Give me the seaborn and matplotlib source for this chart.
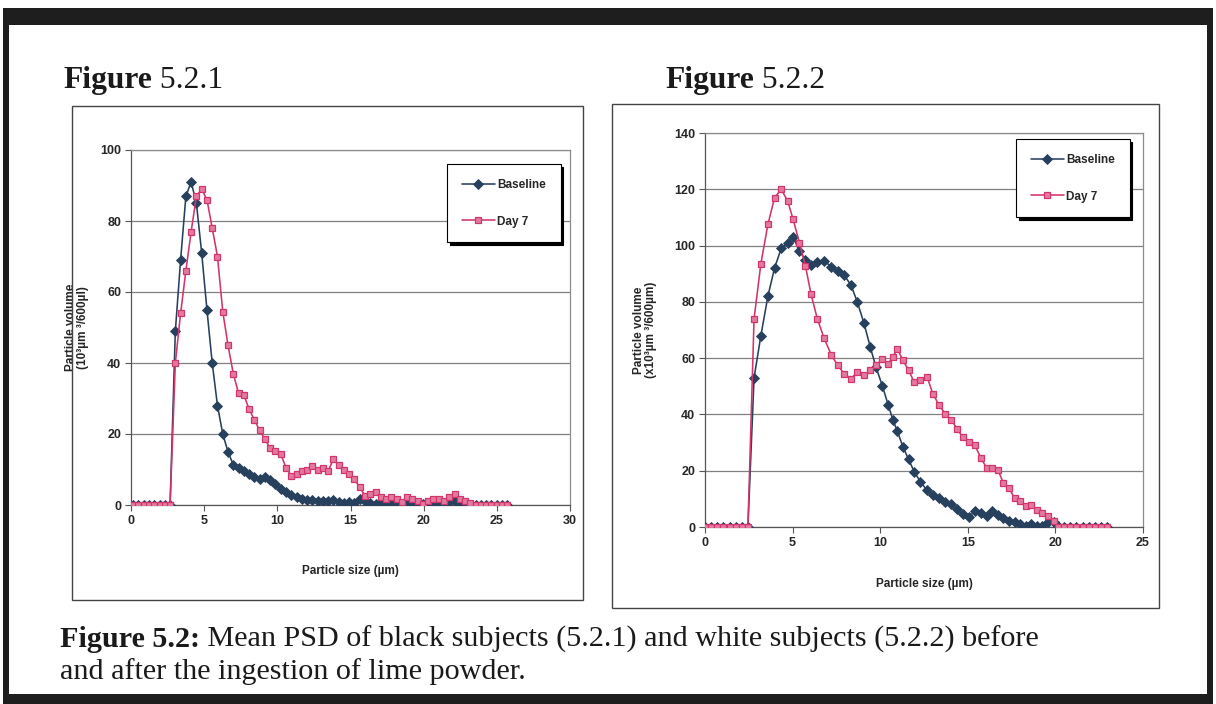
import pandas as pd
import seaborn as sns
import matplotlib.pyplot as plt
from matplotlib.patches import Rectangle

# ==============================
# Datos (PSD medio)
# ==============================
# Figura 5.2.1 - sujetos negros
size_black = [0.15, 0.51, 0.87, 1.23, 1.59, 1.95, 2.31, 2.67, 3.03, 3.39,
              3.75, 4.11, 4.47, 4.83, 5.19, 5.55, 5.91, 6.27, 6.63, 6.99,
              7.35, 7.71, 8.07, 8.43, 8.79, 9.15, 9.51, 9.87, 10.23, 10.59,
              10.95, 11.31, 11.67, 12.03, 12.39, 12.75, 13.11, 13.47, 13.83, 14.19,
              14.55, 14.91, 15.27, 15.63, 15.99, 16.35, 16.71, 17.07, 17.43, 17.79,
              18.15, 18.51, 18.87, 19.23, 19.59, 19.95, 20.31, 20.67, 21.03, 21.39,
              21.75, 22.11, 22.47, 22.83, 23.19, 23.55, 23.91, 24.27, 24.63, 24.99,
              25.35, 25.71]
baseline_black = [0, 0, 0, 0, 0, 0, 0, 0, 49, 69,
                  87, 91, 85, 71, 55, 40, 28, 20, 15, 11.3,
                  10.5, 9.5, 8.6, 8.0, 7.4, 8.0, 7.0, 5.8, 4.6, 3.6,
                  2.8, 2.2, 1.8, 1.5, 1.3, 1.2, 1.0, 1.0, 1.4, 0.8,
                  0.6, 0.8, 0.7, 1.6, 1.0, 0.6, 0.4, 0.5, 0.3, 0.4,
                  0.6, 0.3, 0.5, 0.4, 0.3, 0.2, 0.4, 0.5, 0.3, 0.6,
                  0.8, 1.2, 0.5, 0.2, 0, 0, 0, 0, 0, 0,
                  0, 0]
day7_black = [0, 0, 0, 0, 0, 0, 0, 0, 40, 54,
              66, 77, 87, 89, 86, 78, 70, 54.5, 45, 37,
              31.5, 31, 27, 24, 21, 18.5, 16, 15.3, 14.4, 10.5,
              8.3, 8.7, 9.5, 10, 11, 9.8, 10.5, 9.5, 13, 11.2,
              10, 8.7, 7.2, 5, 2.6, 3.1, 3.6, 2.2, 1.7, 2.2,
              1.7, 0.8, 2.2, 1.7, 1.2, 0.3, 1.2, 1.7, 1.7, 1.2,
              2.2, 3.1, 1.7, 1.2, 0.5, 0, 0, 0, 0, 0,
              0, 0]

# Figura 5.2.2 - sujetos blancos
size_white = [0.0, 0.35, 0.7, 1.05, 1.4, 1.75, 2.1, 2.45,
              2.8, 3.19, 3.59, 3.97, 4.35, 4.72, 5.03, 5.39, 5.73, 6.05,
              6.41, 6.8, 7.22, 7.58, 7.94, 8.33, 8.69, 9.07, 9.43, 9.75,
              10.13, 10.45, 10.73, 10.98, 11.3, 11.62, 11.94, 12.3, 12.68, 13.0,
              13.36, 13.7, 14.06, 14.38, 14.7, 15.06, 15.4, 15.76, 16.08, 16.4,
              16.72, 17.03, 17.35, 17.67, 17.99, 18.3, 18.63, 18.95, 19.26, 19.58,
              19.9, 20.16,
              20.5, 20.85, 21.2, 21.55, 21.9, 22.25, 22.6, 22.95]
baseline_white = [0, 0, 0, 0, 0, 0, 0, 0,
                  53, 68, 82, 92, 99, 101, 103, 98, 95, 93,
                  94, 94.5, 92.5, 91, 89.5, 86, 80, 72.5, 64, 57,
                  50, 43.5, 38, 34, 28.5, 24, 19.7, 16, 13, 11.4,
                  10.2, 9, 8, 6.5, 4.5, 3.5, 5.6, 4.8, 3.8, 5.8,
                  4.4, 3.2, 2.2, 1.6, 1.0, 0.5, 0.9, 0.3, 0.2, 1.8,
                  1.6, 0.5,
                  0, 0, 0, 0, 0, 0, 0, 0]
day7_white = [0, 0, 0, 0, 0, 0, 0, 0,
              74, 93.6, 107.5, 117, 120, 115.8, 109.3, 101, 92.8, 82.8,
              74, 67, 61, 57.4, 54.5, 52.7, 55, 54, 55.7, 57.4,
              59.8, 58, 60.4, 63.3, 59.2, 55.7, 51.5, 52.1, 53.3, 47.4,
              43.3, 40.3, 38, 35, 32, 30.3, 29.1, 24.4, 20.9, 20.9,
              20.3, 15.6, 13.8, 10.3, 9.1, 7.3, 7.9, 6.1, 5, 3.8,
              2, 0,
              0, 0, 0, 0, 0, 0, 0, 0]

COLOR_BASE = "#27405e"
COLOR_DAY7 = "#d3346b"
FACE_DAY7 = "#e27a9f"
SERIF = ["Liberation Serif", "DejaVu Serif"]
NARROW = ["Liberation Sans Narrow", "Liberation Sans", "DejaVu Sans"]

W, H = 1216, 704


def fx(px):
    return px / W


def fy(py):
    return 1 - py / H


sns.set_style("white")
plt.rcParams["font.family"] = NARROW

fig = plt.figure(figsize=(W / 100, H / 100), dpi=100)


def caja(x0, y0, x1, y1, **kw):
    fig.add_artist(Rectangle((fx(x0), fy(y1)), (x1 - x0) / W, (y1 - y0) / H,
                             transform=fig.transFigure, **kw))


def dibujar(ax, size, base, day7, xmax, ymax, ylabel, xlab_y, ylab_x, legend_px):
    df = pd.DataFrame({
        "Tamaño": size + size,
        "Volumen": base + day7,
        "Serie": ["Baseline"] * len(size) + ["Day 7"] * len(size),
    })
    sns.lineplot(data=df[df["Serie"] == "Baseline"], x="Tamaño", y="Volumen",
                 color=COLOR_BASE, marker="D", markersize=4.8,
                 markeredgecolor=COLOR_BASE, markeredgewidth=0.6,
                 linewidth=1.15, label="Baseline", ax=ax, zorder=3)
    sns.lineplot(data=df[df["Serie"] == "Day 7"], x="Tamaño", y="Volumen",
                 color=COLOR_DAY7, marker="s", markersize=4.3,
                 markerfacecolor=FACE_DAY7, markeredgecolor=COLOR_DAY7,
                 markeredgewidth=0.9, linewidth=1.15, label="Day 7", ax=ax, zorder=4)

    ax.set_xlim(0, xmax)
    ax.set_ylim(0, ymax)
    ax.set_xticks(range(0, xmax + 1, 5))
    ax.set_yticks(range(0, ymax + 1, 20))
    ax.yaxis.grid(True, color="#808080", linewidth=0.9)
    ax.xaxis.grid(False)
    for lado, sp in ax.spines.items():
        sp.set_visible(True)
        sp.set_linewidth(0.9)
        sp.set_color("#555555" if lado in ("left", "bottom") else "#8c8c8c")
    ax.tick_params(direction="out", length=4, width=0.8, color="#555555",
                   labelsize=9, pad=3, left=True, bottom=True)
    for t in ax.get_xticklabels() + ax.get_yticklabels():
        t.set_fontweight("bold")

    ax.set_xlabel("Particle size (µm)", fontsize=8.5, fontweight="bold")
    ax.xaxis.set_label_coords(0.5, xlab_y)
    ax.set_ylabel(ylabel, fontsize=8.5, fontweight="bold", linespacing=1.0)
    ax.yaxis.set_label_coords(ylab_x, 0.5)

    leg = ax.legend(loc="upper left", bbox_to_anchor=(fx(legend_px[0]), fy(legend_px[1])),
                    bbox_transform=fig.transFigure, frameon=True, fancybox=False,
                    shadow={"color": "black", "alpha": 1}, edgecolor="black",
                    framealpha=1, prop={"weight": "bold", "size": 8.5},
                    handlelength=2.8, handletextpad=0.2, labelspacing=2.1,
                    borderpad=1.25, borderaxespad=0)
    leg.get_frame().set_linewidth(0.8)


# marco exterior del escaneo
for x0, y0, x1, y1 in [(3, 8, 1213, 25), (3, 8, 9, 704), (1207, 8, 1213, 704), (3, 694, 1213, 704)]:
    caja(x0, y0, x1, y1, facecolor="#1e1e1e", linewidth=0)

# recuadros de cada gráfico
caja(72, 106, 583, 600, fill=False, edgecolor="#444444", linewidth=1.0)
caja(612, 104, 1159, 608, fill=False, edgecolor="#444444", linewidth=1.0)

ax1 = fig.add_axes([fx(131), fy(505), 439 / W, 355 / H])
dibujar(ax1, size_black, baseline_black, day7_black, 30, 100,
        "Particle volume\n(10³µm ³/600µl)", -0.17, -0.095, (447, 164))

ax2 = fig.add_axes([fx(705), fy(527), 438 / W, 394 / H])
dibujar(ax2, size_white, baseline_white, day7_white, 25, 140,
        "Particle volume\n(x10³µm ³/600µm)", -0.13, -0.11, (1016, 139))

# textos en serif (negrita + normal)
renderer = fig.canvas.get_renderer()


def texto_mixto(x_px, y_px, negrita, normal, size):
    t = fig.text(fx(x_px), fy(y_px), negrita, fontsize=size, fontweight="bold",
                 family=SERIF, va="baseline", color="#1a1a1a")
    bb = t.get_window_extent(renderer=renderer)
    fig.text(bb.x1 / W, fy(y_px), normal, fontsize=size, family=SERIF,
             va="baseline", color="#1a1a1a")


texto_mixto(63, 88, "Figure", " 5.2.1", 22.7)
texto_mixto(665, 88, "Figure", " 5.2.2", 22.7)
texto_mixto(60, 647, "Figure 5.2:",
            " Mean PSD of black subjects (5.2.1) and white subjects (5.2.2) before", 21.7)
fig.text(fx(60), fy(679), "and after the ingestion of lime powder.", fontsize=21.7,
         family=SERIF, va="baseline", color="#1a1a1a")

plt.savefig("out.png", dpi=100)
plt.close()
